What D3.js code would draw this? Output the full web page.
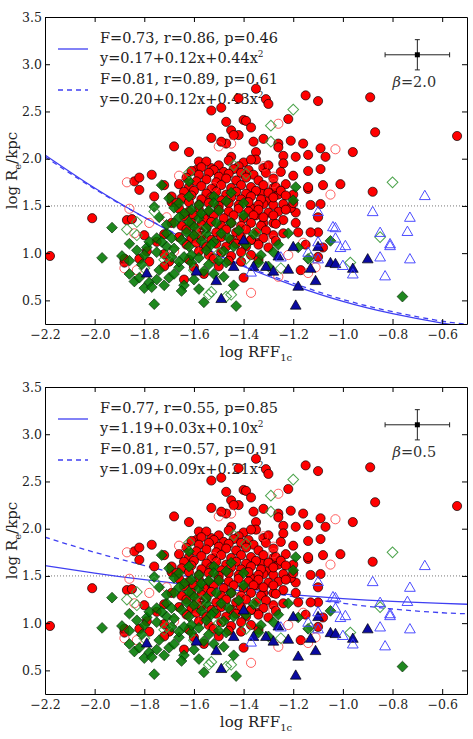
<!DOCTYPE html>
<html>
<head>
<meta charset="utf-8">
<script src="https://cdn.jsdelivr.net/npm/d3@7"></script>
<style>
body { margin: 0; background: #fff; }
svg { display: block; font-family: "DejaVu Serif", serif; }
.axis text { font-size: 12.5px; fill: #222; font-family: "DejaVu Serif", serif; }
.axis path, .axis line { stroke: #000; }
</style>
</head>
<body>
<div id="chart"></div>
<script>
// ---- data (log RFF_1c, log Re/kpc) ----
var redFilled = [
  [-1.42,2.64],[-1.35,2.74],[-1.31,2.63],[-1.30,2.58],[-1.15,2.67],[-1.10,2.61],[-0.89,2.65],[-0.87,2.28],[-0.54,2.24],
  [-1.22,2.42],[-1.40,2.41],[-1.39,2.40],[-1.37,2.33],[-1.42,2.25],[-1.36,2.18],[-1.32,2.21],[-1.26,2.16],[-1.26,2.12],
  [-1.21,2.19],[-1.16,2.16],[-1.09,2.11],[-0.96,2.07],[-1.14,2.04],[-1.07,2.02],[-1.09,1.89],[-1.14,1.87],[-1.20,1.82],
  [-1.24,2.03],[-1.19,2.02],[-1.24,1.95],[-1.25,1.86],[-1.35,2.07],[-1.35,1.99],[-1.32,1.90],[-1.30,1.93],[-1.08,1.72],
  [-1.01,1.73],[-1.14,1.68],[-0.88,1.65],[-1.40,1.96],[-1.37,1.99],
  [-1.53,2.51],[-1.49,2.54],[-1.47,2.39],[-1.45,2.30],[-1.44,2.25],[-1.53,2.22],[-1.68,2.13],[-1.62,2.07],[-1.45,2.02],
  [-1.47,2.16],[-1.49,2.18],[-1.84,1.76],[-1.82,1.80],[-1.77,1.83],[-1.58,1.97],[-1.59,1.88],[-1.53,1.90],
  [-2.18,0.97],[-2.01,1.37],[-1.87,1.35],[-1.85,1.36],[-1.80,1.19],[-1.88,0.90],[-1.88,0.94],[-1.82,0.94],[-1.64,0.72],
  [-1.78,0.91],[-1.76,1.60],[-1.69,1.54],[-1.82,1.67],[-1.72,1.72],
  [-1.09,1.52],[-1.13,1.51],[-1.10,1.38],[-1.10,1.22],[-1.13,1.22],[-1.08,1.06],[-1.10,0.96],[-1.17,0.82],[-1.15,1.09],
  [-1.18,1.22],[-1.19,1.32],[-1.19,1.43],[-1.21,1.48],[-1.20,1.53],[-1.24,1.35],[-1.24,1.21],[-1.28,1.19],[-1.40,0.74],
  [-1.14,1.70],[-1.20,1.62],[-1.26,1.62],[-1.28,1.69],[-1.30,1.56],[-1.32,1.52],[-1.33,1.64],[-1.28,1.51],[-1.26,1.44],
  [-1.28,1.32],[-1.32,1.32],[-1.35,1.40],[-1.37,1.48],[-1.34,1.11],[-1.37,1.14],[-1.30,1.06],
  // dense core
  [-1.55,1.97],[-1.50,1.93],[-1.46,1.98],[-1.42,1.92],[-1.52,1.88],[-1.57,1.91],[-1.38,1.88],[-1.44,1.89],[-1.48,1.86],
  [-1.61,1.87],[-1.58,1.83],[-1.54,1.85],[-1.50,1.81],[-1.46,1.84],[-1.41,1.85],[-1.36,1.83],[-1.31,1.85],[-1.63,1.80],
  [-1.55,1.78],[-1.47,1.79],[-1.43,1.77],[-1.39,1.80],[-1.34,1.77],[-1.59,1.76],[-1.51,1.75],[-1.28,1.79],
  [-1.66,1.73],[-1.62,1.70],[-1.57,1.71],[-1.53,1.68],[-1.49,1.72],[-1.45,1.69],[-1.41,1.72],[-1.37,1.70],[-1.32,1.72],
  [-1.27,1.70],[-1.23,1.73],[-1.64,1.65],[-1.60,1.66],[-1.55,1.63],[-1.51,1.65],[-1.47,1.62],[-1.43,1.65],[-1.39,1.63],
  [-1.35,1.66],[-1.30,1.64],[-1.25,1.66],
  [-1.69,1.60],[-1.65,1.58],[-1.61,1.61],[-1.57,1.57],[-1.53,1.59],[-1.49,1.56],[-1.45,1.59],[-1.41,1.57],[-1.37,1.60],
  [-1.33,1.57],[-1.28,1.59],[-1.23,1.61],[-1.67,1.53],[-1.62,1.54],[-1.58,1.51],[-1.54,1.53],[-1.50,1.50],[-1.46,1.53],
  [-1.42,1.51],[-1.38,1.54],[-1.34,1.51],[-1.24,1.52],
  [-1.66,1.47],[-1.62,1.44],[-1.58,1.46],[-1.54,1.43],[-1.50,1.46],[-1.46,1.44],[-1.42,1.47],[-1.38,1.44],[-1.34,1.46],
  [-1.30,1.43],[-1.23,1.46],[-1.64,1.39],[-1.60,1.40],[-1.56,1.37],[-1.52,1.40],[-1.48,1.37],[-1.44,1.40],[-1.40,1.37],
  [-1.36,1.40],[-1.32,1.38],[-1.28,1.40],
  [-1.69,1.32],[-1.65,1.29],[-1.61,1.32],[-1.57,1.30],[-1.53,1.33],[-1.49,1.29],[-1.45,1.32],[-1.41,1.29],[-1.37,1.32],
  [-1.33,1.29],[-1.27,1.31],[-1.63,1.25],[-1.59,1.23],[-1.55,1.26],[-1.51,1.22],[-1.47,1.25],[-1.43,1.22],[-1.39,1.25],
  [-1.35,1.22],[-1.31,1.24],
  [-1.72,1.20],[-1.66,1.17],[-1.61,1.15],[-1.57,1.18],[-1.53,1.14],[-1.49,1.17],[-1.45,1.14],[-1.41,1.17],[-1.37,1.14],
  [-1.32,1.16],[-1.27,1.13],[-1.75,1.12],[-1.63,1.09],[-1.59,1.11],[-1.55,1.07],[-1.51,1.10],[-1.47,1.07],[-1.43,1.10],
  [-1.39,1.07],[-1.34,1.09],
  [-1.79,1.02],[-1.72,0.99],[-1.58,1.02],[-1.54,0.98],[-1.49,1.01],[-1.45,0.97],[-1.41,1.01],[-1.37,0.98],[-1.52,0.94],
  [-1.46,0.92],[-1.41,0.91],[-1.34,0.93],[-1.62,0.93],[-1.70,0.91],
  [-1.72,0.86],[-1.60,0.85],[-1.50,0.86],[-1.56,0.78]
];
var redOpen = [
  [-1.26,2.37],[-1.03,2.10],[-1.45,2.16],[-1.32,1.92],[-1.28,1.81],[-1.28,1.74],[-1.05,1.62],[-1.87,1.75],[-1.66,1.82],
  [-1.50,2.13],[-1.16,1.11],[-1.14,0.79],[-1.22,0.98],[-1.26,0.75],[-1.37,0.58],[-1.11,0.85],[-1.28,1.14],[-1.88,0.84],
  [-1.83,0.82],[-1.86,1.47],[-1.84,1.21],[-1.78,1.32],[-1.53,0.96],[-1.71,1.38],[-1.68,1.02],[-1.60,1.05],[-1.41,1.27],
  [-1.52,1.70]
];
var greenFilled = [
  [-1.97,0.95],[-1.93,1.27],[-1.89,0.97],[-1.83,1.03],[-1.84,0.70],[-1.82,0.74],[-1.80,0.63],[-1.78,0.69],[-1.77,0.64],
  [-1.75,0.72],[-1.76,0.46],[-1.70,0.74],[-1.74,0.82],[-1.79,1.06],[-1.76,1.49],[-1.73,1.72],[-1.56,0.48],[-1.66,0.85],
  [-1.61,0.90],[-1.56,0.81],[-1.54,0.88],[-1.48,0.75],[-1.44,0.66],[-1.43,0.44],[-1.68,1.48],[-1.66,1.53],[-1.64,1.42],
  [-1.61,1.46],[-1.58,1.51],[-1.58,1.37],[-1.60,1.28],[-1.68,1.32],[-1.71,1.21],[-1.75,1.16],[-1.78,1.12],[-1.75,1.01],
  [-1.71,1.07],[-1.68,1.05],[-1.65,1.14],[-1.62,1.07],[-1.61,0.98],[-1.64,0.96],[-1.66,0.91],[-1.55,1.03],[-1.52,1.12],
  [-1.49,1.21],[-1.45,1.32],[-1.45,1.64],[-1.44,1.07],[-1.51,1.32],[-1.55,1.21],
  [-1.30,0.86],[-1.28,1.01],[-1.26,1.09],[-1.22,1.21],[-1.20,1.56],[-1.18,1.06],[-1.14,0.94],[-1.05,1.13],[-0.76,0.54],
  [-1.19,1.70],[-1.39,1.09],[-1.47,0.90],[-1.62,1.76],
  [-1.60,1.19],[-1.69,1.16],[-1.55,1.27],[-1.53,1.09],[-1.62,1.33],[-1.57,1.42],[-1.50,1.45],[-1.47,1.55],[-1.52,1.60],
  [-1.86,0.78],[-1.81,0.88],[-1.72,0.66],[-1.68,0.78],[-1.64,0.66],[-1.60,0.72],[-1.52,0.78],[-1.50,0.92],[-1.58,0.95],
  [-1.69,0.96],[-1.73,1.12],[-1.80,0.98],[-1.86,1.10],[-1.63,1.22],[-1.57,1.13],[-1.48,1.02],[-1.46,1.16],[-1.42,1.24],
  [-1.40,1.40],[-1.54,1.45],[-1.66,1.38],[-1.71,1.30],[-1.74,1.38],[-1.70,1.58],[-1.62,1.60],[-1.52,1.53],[-1.40,1.53],
  [-1.36,1.20],[-1.33,0.98],[-1.34,0.90],[-1.65,0.60],[-1.58,0.62],[-1.86,0.92]
];
var greenOpen = [
  [-1.20,2.52],[-1.29,2.35],[-1.29,2.18],[-0.80,1.75],[-1.39,1.84],[-1.44,1.93],[-0.85,1.17],[-0.97,0.90],[-1.25,0.84],
  [-1.39,0.94],[-1.35,1.22],[-1.45,0.56],[-1.54,0.56],[-1.47,0.54],[-1.87,1.25],[-1.83,1.19],[-1.80,0.84],[-1.72,0.93],
  [-1.76,1.44],[-1.13,0.95],[-1.83,1.33],[-1.71,0.96],[-1.53,0.59],[-1.60,0.82],[-1.50,1.00],[-1.57,1.24],[-1.62,1.85]
];
var blueFilled = [
  [-1.44,0.85],[-1.40,1.13],[-1.36,0.85],[-1.31,0.85],[-1.28,0.80],[-1.22,0.82],[-1.20,1.06],[-1.18,0.64],[-1.19,0.44],
  [-1.13,0.83],[-1.11,0.70],[-1.10,1.06],[-1.05,0.89],[-1.03,0.88],[-0.96,0.83],[-0.90,0.93],[-1.26,0.96],[-1.79,0.78],
  [-1.59,0.80],[-1.51,0.70],[-1.49,0.51]
];
var blueOpen = [
  [-0.67,1.60],[-0.88,1.43],[-0.73,1.37],[-0.74,1.22],[-0.85,1.21],[-0.81,1.09],[-0.81,1.07],[-0.73,0.93],[-0.85,0.95],
  [-0.83,0.75],[-0.96,0.77],[-1.00,0.86],[-0.99,1.07],[-1.01,1.05],[-1.03,1.26],[-1.03,1.15],[-1.10,1.43],[-1.10,1.11],
  [-1.14,1.00],[-1.10,0.93],[-1.37,0.79],[-1.25,0.95],[-1.04,1.27]
];

// fit curves sampled at these x values
var fitX = [-2.2, -2.0, -1.8, -1.6, -1.4, -1.2, -1.0, -0.8, -0.6, -0.5];
var fitTopSolid  = [2.04, 1.69, 1.38, 1.10, 0.86, 0.66, 0.49, 0.36, 0.26, 0.22];
var fitTopDashed = [2.02, 1.68, 1.38, 1.11, 0.87, 0.68, 0.51, 0.38, 0.28, 0.25];
var fitBotSolid  = [1.61, 1.53, 1.46, 1.40, 1.34, 1.30, 1.26, 1.23, 1.21, 1.20];
var fitBotDashed = [1.91, 1.75, 1.61, 1.48, 1.38, 1.28, 1.21, 1.15, 1.11, 1.10];

var statsTop = ["F=0.73, r=0.86, p=0.46", "F=0.81, r=0.89, p=0.61"];
var eqsTop   = ["y=0.17+0.12x+0.44x", "y=0.20+0.12x+0.43x"];
var statsBot = ["F=0.77, r=0.55, p=0.85", "F=0.81, r=0.57, p=0.91"];
var eqsBot   = ["y=1.19+0.03x+0.10x", "y=1.09+0.09x+0.21x"];
var betas = ["2.0", "0.5"];

// typical error bar (x, y, xerr, yerr)
var errBar = [-0.70, 3.10, 0.13, 0.16];

var xTicks = [-2.2, -2.0, -1.8, -1.6, -1.4, -1.2, -1.0, -0.8, -0.6];
var yTicks = [0.5, 1.0, 1.5, 2.0, 2.5, 3.0, 3.5];

// ---- layout ----
var W = 473, H = 739;
var left = 45, pw = 422, ph = 307;
var panelTops = [17, 387];
var fitColor = "#3f3ff2";

var svg = d3.select("#chart").append("svg")
    .attr("width", W)
    .attr("height", H);

var x = d3.scaleLinear().domain([-2.2, -0.5]).range([0, pw]);
var y = d3.scaleLinear().domain([0.25, 3.5]).range([ph, 0]);

var markerSets = [
    {data: redFilled,   type: d3.symbolCircle,   size: 66, rot: 0,  fill: "#ff0000", fo: 1,    stroke: "#000", so: 0.85, sw: 0.8},
    {data: redOpen,     type: d3.symbolCircle,   size: 66, rot: 0,  fill: "none",    fo: 1,    stroke: "#ff3a3a", so: 0.8, sw: 1},
    {data: greenFilled, type: d3.symbolSquare,   size: 58, rot: 45, fill: "#007800", fo: 0.88, stroke: "#0a2a0a", so: 0.8, sw: 0.8},
    {data: greenOpen,   type: d3.symbolSquare,   size: 58, rot: 45, fill: "none",    fo: 1,    stroke: "#3a9a3a", so: 0.9, sw: 1},
    {data: blueFilled,  type: d3.symbolTriangle, size: 50, rot: 0,  fill: "#0a0aa0", fo: 1,    stroke: "#000", so: 0.85, sw: 0.8},
    {data: blueOpen,    type: d3.symbolTriangle, size: 50, rot: 0,  fill: "none",    fo: 1,    stroke: "#3a3aff", so: 0.9, sw: 1}
];

function drawPanel(idx, solid, dashed, stats, eqs, beta) {
    var top = panelTops[idx];
    var g = svg.append("g").attr("transform", "translate(" + left + "," + top + ")");

    g.append("clipPath").attr("id", "clip" + idx)
        .append("rect").attr("width", pw).attr("height", ph);

    // dotted reference line at log Re = 1.5
    g.append("line")
        .attr("x1", 0).attr("x2", pw)
        .attr("y1", y(1.5)).attr("y2", y(1.5))
        .attr("stroke", "#777").attr("stroke-width", 1)
        .attr("stroke-dasharray", "1,2");

    // legend (drawn under the points, as in the figure)
    var leg = g.append("g");
    [[solid, null], [dashed, "5,4"]].forEach(function(s, i) {
        var ly = i == 0 ? 32 : 73;
        leg.append("line")
            .attr("x1", 13).attr("x2", 43).attr("y1", ly).attr("y2", ly)
            .attr("stroke", fitColor).attr("stroke-width", 1.3)
            .attr("stroke-dasharray", s[1]);
        leg.append("text").attr("x", 55).attr("y", ly - 6)
            .style("font-size", "14.5px").attr("fill", "#222").text(stats[i]);
        var t2 = leg.append("text").attr("x", 55).attr("y", ly + 14)
            .style("font-size", "14.5px").attr("fill", "#222").text(eqs[i]);
        t2.append("tspan").attr("dy", -6).style("font-size", "9px").text("2");
    });

    // fit curves
    var line = d3.line()
        .x(function(d, i) { return x(fitX[i]); })
        .y(function(d) { return y(d); })
        .curve(d3.curveNatural);
    var cg = g.append("g").attr("clip-path", "url(#clip" + idx + ")");
    cg.append("path").datum(solid)
        .attr("d", line).attr("fill", "none")
        .attr("stroke", fitColor).attr("stroke-width", 1.3);
    cg.append("path").datum(dashed)
        .attr("d", line).attr("fill", "none")
        .attr("stroke", fitColor).attr("stroke-width", 1.3)
        .attr("stroke-dasharray", "5,4");

    // scatter points
    var pg = g.append("g").attr("clip-path", "url(#clip" + idx + ")");
    markerSets.forEach(function(m) {
        var sym = d3.symbol().type(m.type).size(m.size);
        pg.append("g").selectAll("path")
            .data(m.data)
            .enter().append("path")
            .attr("d", sym)
            .attr("transform", function(d) {
                return "translate(" + x(d[0]) + "," + y(d[1]) + ") rotate(" + m.rot + ")";
            })
            .attr("fill", m.fill)
            .attr("fill-opacity", m.fo)
            .attr("stroke", m.stroke)
            .attr("stroke-opacity", m.so)
            .attr("stroke-width", m.sw);
    });

    // typical error bar
    var eb = g.append("g").attr("stroke", "#222").attr("stroke-width", 1);
    var ex = x(errBar[0]), ey = y(errBar[1]);
    var x0 = x(errBar[0] - errBar[2]), x1 = x(errBar[0] + errBar[2]);
    var y0 = y(errBar[1] - errBar[3]), y1 = y(errBar[1] + errBar[3]);
    eb.append("line").attr("x1", x0).attr("x2", x1).attr("y1", ey).attr("y2", ey);
    eb.append("line").attr("x1", ex).attr("x2", ex).attr("y1", y0).attr("y2", y1);
    [x0, x1].forEach(function(v) {
        eb.append("line").attr("x1", v).attr("x2", v).attr("y1", ey - 2.5).attr("y2", ey + 2.5);
    });
    [y0, y1].forEach(function(v) {
        eb.append("line").attr("x1", ex - 2.5).attr("x2", ex + 2.5).attr("y1", v).attr("y2", v);
    });
    g.append("rect").attr("x", ex - 2.5).attr("y", ey - 2.5)
        .attr("width", 5).attr("height", 5).attr("fill", "#000");
    var bt = g.append("text").attr("x", ex - 3).attr("y", ey + 32)
        .attr("text-anchor", "middle").style("font-size", "14.5px").attr("fill", "#333");
    bt.append("tspan").style("font-style", "italic").text("\u03b2");
    bt.append("tspan").text("=" + beta);

    // axes, ticks pointing inwards on all four sides
    var fmt = d3.format(".1f");
    g.append("g").attr("class", "axis")
        .attr("transform", "translate(0," + ph + ")")
        .call(d3.axisBottom(x).tickValues(xTicks).tickFormat(fmt)
            .tickSizeInner(-5).tickSizeOuter(0).tickPadding(6));
    g.append("g").attr("class", "axis")
        .call(d3.axisTop(x).tickValues(xTicks).tickFormat("")
            .tickSizeInner(-5).tickSizeOuter(0));
    g.append("g").attr("class", "axis")
        .call(d3.axisLeft(y).tickValues(yTicks).tickFormat(fmt)
            .tickSizeInner(-5).tickSizeOuter(0).tickPadding(3));
    g.append("g").attr("class", "axis")
        .attr("transform", "translate(" + pw + ",0)")
        .call(d3.axisRight(y).tickValues(yTicks).tickFormat("")
            .tickSizeInner(-5).tickSizeOuter(0));

    // axis titles
    var xl = g.append("text")
        .attr("x", pw / 2).attr("y", ph + 33)
        .attr("text-anchor", "middle")
        .style("font-size", "15px").attr("fill", "#222")
        .text("log RFF");
    xl.append("tspan").attr("dy", 4).style("font-size", "10px").text("1c");

    var yl = g.append("text")
        .attr("transform", "translate(" + (-28) + "," + (ph / 2) + ") rotate(-90)")
        .attr("text-anchor", "middle")
        .style("font-size", "15px").attr("fill", "#222")
        .text("log R");
    yl.append("tspan").attr("dy", 4).style("font-size", "10px").text("e");
    yl.append("tspan").attr("dy", -4).text("/kpc");
}

drawPanel(0, fitTopSolid, fitTopDashed, statsTop, eqsTop, betas[0]);
drawPanel(1, fitBotSolid, fitBotDashed, statsBot, eqsBot, betas[1]);
</script>
</body>
</html>
